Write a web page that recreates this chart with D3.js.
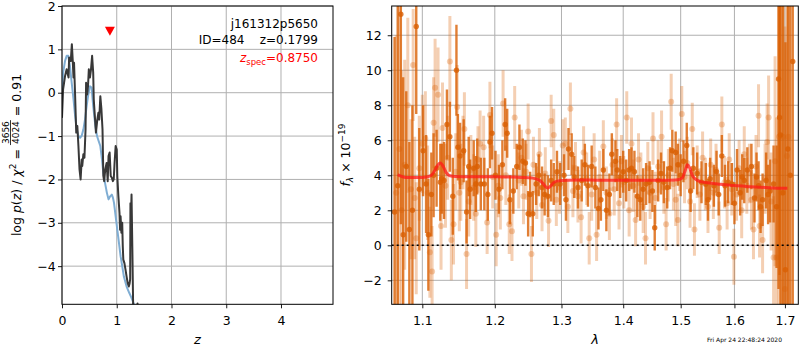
<!DOCTYPE html>
<html><head><meta charset="utf-8">
<script src="https://cdn.jsdelivr.net/npm/d3@7"></script>
<style>body{margin:0;background:#fff}svg{display:block}text{font-family:"DejaVu Sans",sans-serif}</style>
</head><body><svg id="c" width="800" height="350"></svg>
<script>
// ---------- Left panel: log p(z) ----------
const zDark = [0.00,0.02,0.055,0.085,0.12,0.13,0.16,0.18,0.195,0.21,0.22,0.24,0.26,0.28,0.30,0.32,0.34,0.36,0.37,0.39,0.41,0.43,0.44,0.46,0.475,0.49,0.51,0.53,0.55,0.57,0.58,0.60,0.62,0.645,0.665,0.68,0.70,0.72,0.74,0.755,0.77,0.79,0.815,0.835,0.85,0.87,0.89,0.91,0.93,0.945,0.96,0.98,1.00,1.01,1.03,1.05,1.06,1.07,1.085,1.10,1.11,1.12,1.14,1.16,1.18,1.20,1.22,1.235,1.245,1.25,1.26,1.27,1.285,1.30,1.34,1.38,1.41];
const pDark = [-0.58,0.08,0.38,0.54,0.35,0.81,0.73,1.12,0.77,0.35,0.69,-0.08,-0.92,-0.77,-1.23,-1.77,-2.0,-1.54,-1.69,-1.42,-1.5,-0.85,0.23,-0.04,0.15,0.54,0.35,0.54,0.85,0.46,-0.15,-0.54,-0.92,-0.62,-0.46,-0.62,-0.08,-0.38,-0.85,-1.92,-2.04,-1.77,-1.62,-2.04,-1.46,-1.38,-1.92,-1.96,-2.04,-2.0,-1.62,-1.23,-1.31,-1.92,-2.39,-2.77,-3.16,-2.85,-3.23,-3.0,-3.54,-3.85,-3.93,-4.08,-4.24,-4.39,-4.47,-4.4,-4.3,-2.55,-2.9,-2.35,-3.6,-4.95,-5.4,-4.86,-5.6];
const zBlue = [0.0,0.02,0.055,0.085,0.115,0.146,0.177,0.21,0.24,0.27,0.30,0.33,0.36,0.39,0.42,0.45,0.48,0.51,0.54,0.57,0.61,0.64,0.66,0.70,0.73,0.755,0.786,0.82,0.85,0.88,0.91,0.93,0.95,0.98,1.01,1.04,1.07,1.10,1.13,1.18,1.23,1.27,1.32,1.36];
const pBlue = [-0.08,0.46,0.73,0.85,0.85,0.61,0.23,-0.15,-0.54,-0.85,-1.0,-1.04,-0.99,-0.85,-0.62,-0.31,-0.04,0.15,0.12,-0.31,-0.77,-1.0,-1.08,-1.23,-1.54,-1.85,-2.08,-2.31,-2.46,-2.39,-2.35,-2.42,-2.54,-2.85,-3.16,-3.46,-3.77,-4.0,-4.24,-4.47,-4.62,-4.73,-4.9,-5.2];
const zSpec = 0.875, zSpecMarkY = 1.42;
const zTicks = [0,1,2,3,4];
const logpTicks = [-4,-3,-2,-1,0,1,2];

// ---------- Right panel: spectrum ----------
const lamDark = [1.064,1.068,1.072,1.075,1.079,1.083,1.087,1.092,1.096,1.101,1.105,1.108,1.112,1.115,1.119,1.124,1.126,1.129,1.133,1.137,1.141,1.146,1.148,1.151,1.156,1.160,1.163,1.165,1.170,1.173,1.175,1.180,1.185,1.190,1.193,1.196,1.201,1.206,1.211,1.215,1.218,1.222,1.227,1.232,1.236,1.241,1.245,1.249,1.252,1.256,1.261,1.265,1.270,1.274,1.279,1.284,1.288,1.293,1.298,1.304,1.307,1.311,1.316,1.320,1.326,1.332,1.337,1.342,1.348,1.354,1.359,1.363,1.367,1.372,1.377,1.381,1.387,1.390,1.395,1.400,1.405,1.410,1.414,1.419,1.424,1.429,1.434,1.439,1.445,1.450,1.454,1.460,1.465,1.470,1.476,1.481,1.485,1.491,1.495,1.500,1.505,1.511,1.518,1.523,1.530,1.538,1.546,1.550,1.554,1.561,1.566,1.570,1.576,1.582,1.588,1.595,1.600,1.605,1.611,1.615,1.619,1.625,1.633,1.639,1.643,1.647,1.651,1.655,1.662,1.666,1.670,1.677,1.683,1.687,1.689,1.691,1.696,1.701,1.706,1.711,1.716];
const fluxDark = [1.9,3.4,13.2,0.6,4.5,0.9,2.0,12.5,3.2,5.4,3.5,0.6,2.9,4.0,4.4,3.6,3.8,3.7,6.9,6.2,2.8,10.0,5.6,5.1,5.4,1.9,4.5,3.2,4.4,3.5,4.5,3.5,3.5,2.9,5.9,6.4,4.0,3.2,4.6,6.9,6.4,2.6,3.1,4.5,5.6,4.8,4.7,1.8,2.9,1.8,3.5,4.0,3.3,2.9,2.8,3.7,3.5,4.2,3.5,4.0,2.6,5.5,5.2,3.9,3.3,3.7,4.6,3.4,4.5,3.3,2.1,2.6,4.3,2.0,2.9,5.2,4.8,4.3,3.9,4.2,3.7,4.3,4.4,4.2,2.8,2.6,3.2,3.5,3.6,3.1,1.0,3.7,4.1,3.6,3.3,4.4,5.4,5.3,4.6,4.0,4.8,5.7,3.1,4.4,4.1,3.6,3.5,2.6,3.8,3.4,4.2,2.9,5.1,3.4,3.6,3.5,2.4,4.3,3.0,3.9,3.7,4.3,4.5,2.7,3.9,3.4,2.2,2.6,3.7,2.9,3.1,3.5,2.2,9.5,7.3,6.3,3.0,-1.4,5.5,4.0,10.5];
const errDark = [10,11,12,9,4.3,5,6,5,3.5,2.6,2.8,3.2,2.4,2.4,2.2,2.2,2.0,2.2,2.0,2.0,2.2,2.6,1.9,1.9,1.8,1.8,1.7,1.7,1.6,1.6,1.6,1.5,1.5,1.5,1.5,1.5,1.4,1.4,1.4,1.5,1.4,1.4,1.3,1.3,1.3,1.3,1.3,1.3,1.3,1.3,1.2,1.2,1.2,1.2,1.2,1.2,1.2,1.2,1.2,1.2,1.2,1.2,1.2,1.2,1.2,1.2,1.2,1.2,1.2,1.2,1.2,1.2,1.2,1.2,1.2,1.2,1.2,1.2,1.2,1.2,1.2,1.2,1.2,1.2,1.2,1.2,1.2,1.2,1.2,1.2,1.3,1.2,1.2,1.2,1.2,1.2,1.2,1.2,1.2,1.2,1.2,1.3,1.2,1.2,1.2,1.2,1.2,1.2,1.2,1.2,1.2,1.2,1.2,1.2,1.2,1.2,1.2,1.2,1.3,1.3,1.3,1.3,1.3,1.4,1.4,1.4,1.5,1.5,1.6,1.7,1.8,2.2,3.5,12,9,10,12,13,14,15,20];

const lamLight = [1.066,1.070,1.073,1.077,1.081,1.085,1.088,1.090,1.092,1.096,1.100,1.104,1.107,1.110,1.113,1.115,1.117,1.121,1.125,1.127,1.131,1.134,1.137,1.139,1.142,1.145,1.147,1.150,1.152,1.155,1.157,1.160,1.163,1.166,1.170,1.173,1.176,1.179,1.184,1.189,1.193,1.197,1.202,1.205,1.208,1.212,1.216,1.221,1.225,1.229,1.235,1.239,1.242,1.246,1.249,1.254,1.257,1.262,1.266,1.270,1.275,1.280,1.284,1.288,1.292,1.297,1.302,1.306,1.310,1.314,1.318,1.322,1.326,1.331,1.335,1.340,1.344,1.348,1.352,1.356,1.361,1.367,1.372,1.377,1.382,1.385,1.389,1.393,1.397,1.401,1.406,1.410,1.414,1.417,1.421,1.426,1.430,1.434,1.438,1.442,1.446,1.451,1.455,1.460,1.466,1.470,1.474,1.478,1.483,1.487,1.491,1.495,1.498,1.502,1.507,1.512,1.517,1.521,1.525,1.530,1.535,1.540,1.545,1.550,1.555,1.560,1.565,1.571,1.576,1.581,1.586,1.590,1.595,1.599,1.604,1.609,1.614,1.619,1.624,1.629,1.633,1.637,1.642,1.647,1.649,1.655,1.660,1.664,1.667,1.672,1.677,1.680,1.683,1.688,1.693,1.696,1.700,1.704,1.707];
const fluxLight = [3.0,5.5,2.0,4.6,8.0,3.2,10.3,2.7,0.4,4.4,5.8,6.1,3.0,-0.4,-1.5,7.0,9.0,8.6,1.1,6.7,3.4,5.0,10.5,0.3,1.2,4.2,7.9,3.0,3.6,5.3,6.65,-0.5,2.5,4.3,3.3,1.8,4.9,5.8,5.6,1.3,7.45,3.9,0.6,3.4,2.7,8.1,4.0,1.2,0.8,7.3,3.7,5.0,2.8,4.2,6.5,-0.5,4.6,3.0,5.2,2.3,4.1,1.4,7.1,6.3,2.6,3.3,5.7,5.8,2.2,7.8,3.1,4.4,2.8,1.6,5.3,3.8,0.4,2.9,4.9,0.6,3.9,5.65,3.0,1.8,4.6,3.2,6.9,2.4,4.8,3.6,7.3,2.0,5.8,3.4,1.45,4.9,3.8,2.2,0.4,4.4,3.0,6.1,2.7,4.5,6.2,3.3,1.2,4.0,8.2,3.5,2.6,1.45,4.6,7.5,3.9,4.7,2.5,6.65,0.9,4.2,2.9,5.0,3.5,2.2,4.6,3.0,4.3,1.0,6.9,3.6,2.4,4.9,3.2,-0.65,2.9,4.4,2.0,5.2,3.4,4.1,2.6,0.9,4.5,7.4,1.1,0.3,3.8,5.9,7.3,2.5,-0.7,4.8,-0.7,6.2,3.0,6.2,-2.5,5.1,6.2];
const errLight = [9,10,8,6,5,4,3.2,3.5,3.2,3,2.8,2.7,2.7,2.6,2.6,2.6,2.8,2.7,2.5,2.6,2.4,2.4,2.6,2.3,2.3,2.2,2.4,2.2,2.2,2.1,2.1,2.0,2.0,2.0,1.9,1.9,1.9,1.9,1.8,1.8,1.9,1.8,1.8,1.8,1.8,1.9,1.7,1.7,1.7,1.8,1.6,1.6,1.6,1.6,1.6,1.6,1.6,1.5,1.5,1.5,1.5,1.5,1.5,1.5,1.5,1.5,1.5,1.5,1.5,1.5,1.5,1.5,1.5,1.5,1.5,1.5,1.5,1.5,1.5,1.5,1.5,1.5,1.5,1.5,1.5,1.5,1.5,1.5,1.5,1.5,1.5,1.5,1.5,1.5,1.5,1.5,1.5,1.5,1.5,1.5,1.5,1.5,1.5,1.5,1.5,1.5,1.5,1.5,1.6,1.5,1.5,1.5,1.5,1.6,1.5,1.5,1.5,1.5,1.5,1.5,1.5,1.5,1.5,1.5,1.5,1.5,1.5,1.5,1.6,1.5,1.5,1.5,1.5,1.6,1.5,1.6,1.6,1.6,1.6,1.7,1.7,1.7,1.8,1.8,1.8,1.9,2.0,2.2,2.4,2.8,3.5,6,8,12,14,14,15,15,15];

const lamModel = [1.068,1.072,1.078,1.085,1.095,1.105,1.112,1.117,1.121,1.124,1.128,1.132,1.137,1.145,1.16,1.18,1.20,1.22,1.24,1.255,1.265,1.271,1.276,1.279,1.283,1.288,1.295,1.31,1.33,1.36,1.40,1.44,1.47,1.495,1.503,1.508,1.512,1.516,1.521,1.527,1.536,1.55,1.573,1.60,1.631,1.66,1.69,1.705];
const fluxModel = [4.05,3.95,3.88,3.87,3.87,3.9,4.0,4.3,4.6,4.7,4.5,4.15,3.97,3.93,3.92,3.92,3.92,3.9,3.88,3.84,3.74,3.55,3.33,3.27,3.38,3.58,3.68,3.72,3.73,3.72,3.72,3.71,3.72,3.75,3.85,4.25,4.6,4.45,4.0,3.78,3.64,3.57,3.49,3.41,3.35,3.3,3.26,3.26];
const lamTicks = [1.1,1.2,1.3,1.4,1.5,1.6,1.7];
const fluxTicks = [-2,0,2,4,6,8,10,12];

const svg = d3.select("#c");
const GRID = "#b0b0b0", TF = 12.5;

// ===== LEFT PANEL =====
const L = {x0:62, x1:333, y0:6, y1:304.3};
const xL = d3.scaleLinear().domain([0,4.95]).range([L.x0,L.x1]);
const yL = d3.scaleLinear().domain([-4.88,2]).range([L.y1,L.y0]);
const gL = svg.append("g");
gL.append("g").selectAll("line").data(zTicks).join("line")
  .attr("x1",d=>xL(d)).attr("x2",d=>xL(d)).attr("y1",L.y0).attr("y2",L.y1)
  .attr("stroke",GRID).attr("stroke-width",1);
gL.append("g").selectAll("line").data(logpTicks).join("line")
  .attr("x1",L.x0).attr("x2",L.x1).attr("y1",d=>yL(d)).attr("y2",d=>yL(d))
  .attr("stroke",GRID).attr("stroke-width",1);
svg.append("clipPath").attr("id","clipL").append("rect")
  .attr("x",L.x0).attr("y",L.y0).attr("width",L.x1-L.x0).attr("height",L.y1-L.y0);
const lineL = d3.line().x(d=>xL(d[0])).y(d=>yL(d[1]));
const cl = gL.append("g").attr("clip-path","url(#clipL)");
cl.append("path").attr("d",lineL(d3.zip(zBlue,pBlue))).attr("fill","none")
  .attr("stroke","#7fadd3").attr("stroke-width",2).attr("stroke-linejoin","round");
cl.append("path").attr("d",lineL(d3.zip(zDark,pDark))).attr("fill","none")
  .attr("stroke","#383838").attr("stroke-width",2).attr("stroke-linejoin","round");
// z_spec marker (downward triangle)
const tx = xL(zSpec), ty = yL(zSpecMarkY);
gL.append("path").attr("d",`M${tx-5},${ty-4.5}L${tx+5},${ty-4.5}L${tx},${ty+4.5}Z`).attr("fill","#ff0000");
// axes
const axBL = d3.axisBottom(xL).tickValues(zTicks).tickSize(4).tickPadding(7.6).tickFormat(d3.format("d"));
const axLL = d3.axisLeft(yL).tickValues(logpTicks).tickSize(4).tickPadding(2.4).tickFormat(d3.format("d"));
function styleAxis(g){
  g.select(".domain").remove();
  g.selectAll("line").attr("stroke","#000").attr("stroke-width",0.9);
  g.selectAll("text").attr("font-size",TF).attr("fill","#000").attr("font-family","DejaVu Sans");
  g.attr("font-family","DejaVu Sans");
}
gL.append("g").attr("transform",`translate(0,${L.y1})`).call(axBL).call(styleAxis);
gL.append("g").attr("transform",`translate(${L.x0},0)`).call(axLL).call(styleAxis);
gL.append("rect").attr("x",L.x0).attr("y",L.y0).attr("width",L.x1-L.x0).attr("height",L.y1-L.y0)
  .attr("fill","none").attr("stroke","#000").attr("stroke-width",1);
// annotations
gL.append("text").attr("x",318).attr("y",28).attr("text-anchor","end").attr("font-size",12).text("j161312p5650");
gL.append("text").attr("x",318).attr("y",44).attr("text-anchor","end").attr("font-size",12)
  .style("white-space","pre").text("ID=484    z=0.1799");
const zs = gL.append("text").attr("x",318).attr("y",62).attr("text-anchor","end").attr("font-size",12).attr("fill","#ff0000");
zs.append("tspan").attr("font-style","italic").text("z");
zs.append("tspan").attr("font-size",8.5).attr("dy",2.5).text("spec");
zs.append("tspan").attr("dy",-2.5).text("=0.8750");
// x label
gL.append("text").attr("x",(L.x0+L.x1)/2).attr("y",344).attr("text-anchor","middle")
  .attr("font-size",13).attr("font-style","italic").text("z");
// y label with fraction
(function(){
  const g = svg.append("g").attr("transform","translate(21,155) rotate(-90)");
  const inner = g.append("g");
  const t1 = inner.append("text").attr("x",0).attr("y",0).attr("font-size",12.5);
  t1.append("tspan").text("log ");
  t1.append("tspan").attr("font-style","italic").text("p");
  t1.append("tspan").text("(");
  t1.append("tspan").attr("font-style","italic").text("z");
  t1.append("tspan").text(") / ");
  t1.append("tspan").attr("font-style","italic").text("χ");
  t1.append("tspan").attr("font-size",9).attr("dy",-5).text("2");
  t1.append("tspan").attr("dy",5).style("white-space","pre").text(" = ");
  const w1 = t1.node().getComputedTextLength();
  const num = inner.append("text").attr("font-size",9).attr("text-anchor","middle").attr("y",-12.5).text("3656");
  const den = inner.append("text").attr("font-size",9).attr("text-anchor","middle").attr("y",-2).text("4024");
  const fw = Math.max(num.node().getComputedTextLength(), den.node().getComputedTextLength()) + 2;
  num.attr("x", w1 + fw/2); den.attr("x", w1 + fw/2);
  inner.append("line").attr("x1",w1).attr("x2",w1+fw).attr("y1",-10.5).attr("y2",-10.5).attr("stroke","#000").attr("stroke-width",0.8);
  const t3 = inner.append("text").attr("x", w1+fw).attr("y",0).attr("font-size",12.5).style("white-space","pre").text(" = 0.91");
  const W = w1 + fw + t3.node().getComputedTextLength();
  inner.attr("transform",`translate(${-W/2},0)`);
})();

// ===== RIGHT PANEL =====
const R = {x0:391.7, x1:798.3, y0:6, y1:304.3};
const xR = d3.scaleLog().domain([1.0603,1.7275]).range([R.x0,R.x1]);
const yR = d3.scaleLinear().domain([-3.37,13.67]).range([R.y1,R.y0]);
const gR = svg.append("g");
gR.append("g").selectAll("line").data(lamTicks).join("line")
  .attr("x1",d=>xR(d)).attr("x2",d=>xR(d)).attr("y1",R.y0).attr("y2",R.y1)
  .attr("stroke",GRID).attr("stroke-width",1);
gR.append("g").selectAll("line").data(fluxTicks).join("line")
  .attr("x1",R.x0).attr("x2",R.x1).attr("y1",d=>yR(d)).attr("y2",d=>yR(d))
  .attr("stroke",GRID).attr("stroke-width",1);
svg.append("clipPath").attr("id","clipR").append("rect")
  .attr("x",R.x0).attr("y",R.y0).attr("width",R.x1-R.x0).attr("height",R.y1-R.y0);
const cr = gR.append("g").attr("clip-path","url(#clipR)");
const ORANGE = "#d95f02";
function drawSeries(lam, flux, err, alpha, bw, r){
  const data = d3.zip(lam, flux, err);
  const g = cr.append("g");
  g.selectAll("line").data(data).join("line")
    .attr("x1",d=>xR(d[0])).attr("x2",d=>xR(d[0]))
    .attr("y1",d=>yR(d[1]-d[2])).attr("y2",d=>yR(d[1]+d[2]))
    .attr("stroke",ORANGE).attr("stroke-opacity",alpha).attr("stroke-width",bw);
  g.selectAll("circle").data(data).join("circle")
    .attr("cx",d=>xR(d[0])).attr("cy",d=>yR(d[1])).attr("r",r)
    .attr("fill",ORANGE).attr("fill-opacity",alpha);
}
drawSeries(lamLight, fluxLight, errLight, 0.3, 3, 3);
drawSeries(lamDark, fluxDark, errDark, 0.8, 2.4, 2.7);
cr.append("line").attr("x1",R.x0).attr("x2",R.x1).attr("y1",yR(0)).attr("y2",yR(0))
  .attr("stroke","#000").attr("stroke-width",1.5).attr("stroke-dasharray","2,3");
cr.append("path").attr("d", d3.line().curve(d3.curveMonotoneX).x(d=>xR(d[0])).y(d=>yR(d[1]))(d3.zip(lamModel,fluxModel)))
  .attr("fill","none").attr("stroke","#ff1a1a").attr("stroke-opacity",0.75).attr("stroke-width",3);
const axBR = d3.axisBottom(xR).tickValues(lamTicks).tickSize(4).tickPadding(7.6).tickFormat(d3.format(".1f"));
const axLR = d3.axisLeft(yR).tickValues(fluxTicks).tickSize(4).tickPadding(6).tickFormat(d3.format("d"));
gR.append("g").attr("transform",`translate(0,${R.y1})`).call(axBR).call(styleAxis);
gR.append("g").attr("transform",`translate(${R.x0},0)`).call(axLR).call(styleAxis);
gR.append("rect").attr("x",R.x0).attr("y",R.y0).attr("width",R.x1-R.x0).attr("height",R.y1-R.y0)
  .attr("fill","none").attr("stroke","#000").attr("stroke-width",1);
gR.append("text").attr("x",(R.x0+R.x1)/2).attr("y",344).attr("text-anchor","middle")
  .attr("font-size",13).attr("font-style","italic").text("λ");
(function(){
  const t = svg.append("text").attr("transform","translate(350,155) rotate(-90)")
    .attr("text-anchor","middle").attr("font-size",12.5);
  t.append("tspan").attr("font-style","italic").text("f");
  t.append("tspan").attr("font-style","italic").attr("font-size",9).attr("dy",2.5).text("λ");
  t.append("tspan").attr("dy",-2.5).style("white-space","pre").text(" × 10");
  t.append("tspan").attr("font-size",9).attr("dy",-5).text("−19");
})();
svg.append("text").attr("x",744.5).attr("y",342).attr("text-anchor","middle").attr("font-size",6).text("Fri Apr 24 22:48:24 2020");
</script></body></html>
